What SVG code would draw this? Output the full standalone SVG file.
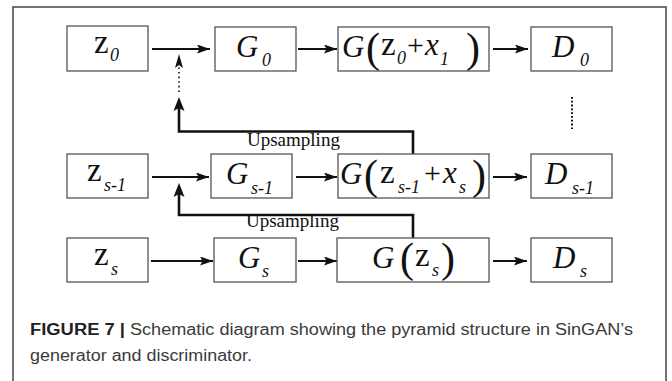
<svg xmlns="http://www.w3.org/2000/svg" width="672" height="381" viewBox="0 0 672 381">
<defs>
<style>
.box{fill:#fff;stroke:#555;stroke-width:1.3}
.m{font-family:"Liberation Serif","DejaVu Serif",serif;font-size:33px;fill:#111}
.pl{font-family:"Liberation Serif","DejaVu Serif",serif;font-size:30px;fill:#111}
.gi{font-family:"Liberation Serif","DejaVu Serif",serif;font-size:31px;font-style:italic;fill:#111}
.sub{font-family:"Liberation Serif","DejaVu Serif",serif;font-size:18px;font-style:italic;fill:#111}
.par{font-family:"Liberation Serif","DejaVu Serif",serif;font-size:42px;fill:#111}
.lbl{font-family:"Liberation Serif","DejaVu Serif",serif;font-size:19px;fill:#111}
.arr{fill:none;stroke:#111;stroke-width:2;marker-end:url(#ah)}
.up{fill:none;stroke:#111;stroke-width:2.6}
.cap{font-family:"Liberation Sans","Arial",sans-serif;font-size:16px;fill:#3a3a3a}
.capb{font-family:"Liberation Sans","Arial",sans-serif;font-size:16px;font-weight:bold;fill:#222}
</style>
<marker id="ah" markerUnits="userSpaceOnUse" markerWidth="14" markerHeight="10" refX="13" refY="4.5" orient="auto">
<path d="M0,0 L13,4.5 L0,9 L2.5,4.5 Z" fill="#111"/>
</marker>
</defs>
<rect width="672" height="381" fill="#fff"/>
<path d="M13,381 V7 H666 V381" fill="none" stroke="#444" stroke-width="1.5"/>

<g id="connectors">
<line class="arr" x1="152" y1="49" x2="210" y2="49"/>
<line class="arr" x1="298" y1="49" x2="337" y2="49"/>
<line class="arr" x1="493" y1="49" x2="528" y2="49"/>
<line class="arr" x1="152" y1="177" x2="209" y2="177"/>
<line class="arr" x1="296" y1="177" x2="337" y2="177"/>
<line class="arr" x1="493" y1="177" x2="527" y2="177"/>
<line class="arr" x1="151" y1="261" x2="213" y2="261"/>
<line class="arr" x1="298" y1="261" x2="337" y2="261"/>
<line class="arr" x1="493" y1="261" x2="527" y2="261"/>
<path class="up" d="M413,154 V131.5 H179 V106"/>
<path d="M173.5,111 L179,97 L184.5,111 L179,108 Z" fill="#111"/>
<line x1="179" y1="92" x2="179" y2="64" stroke="#111" stroke-width="1.6" stroke-dasharray="1.6 3"/>
<path d="M175,68 L179,54 L183,68 L179,65 Z" fill="#111"/>
<path class="up" d="M413,238 V215 H179 V192"/>
<path d="M173.5,197 L179,183 L184.5,197 L179,194 Z" fill="#111"/>
<line x1="572" y1="97" x2="572" y2="129" stroke="#111" stroke-width="2" stroke-dasharray="1.8 2"/>
<text class="lbl" x="247" y="146">Upsampling</text>
<text class="lbl" x="246" y="227">Upsampling</text>
</g>

<g id="z0"><rect class="box" x="67" y="26" width="81" height="45"/><text class="m" x="94" y="53">z</text><text class="sub" x="110" y="61">0</text></g>
<g id="G0"><rect class="box" x="215" y="27" width="81" height="44"/><text class="gi" x="236" y="57">G</text><text class="sub" x="262" y="66">0</text></g>
<g id="Gz0x1"><rect class="box" x="338" y="27" width="151" height="44"/>
<text class="gi" x="342" y="57">G</text><text class="par" x="366" y="62">(</text><text class="m" x="381" y="55">z</text><text class="sub" x="397" y="64">0</text><text class="pl" x="407" y="55">+</text><text class="gi" x="425" y="55">x</text><text class="sub" x="440" y="65">1</text><text class="par" x="466" y="62">)</text></g>
<g id="D0"><rect class="box" x="531" y="27" width="81" height="44"/><text class="gi" x="552" y="57">D</text><text class="sub" x="580" y="66">0</text></g>

<g id="zs1"><rect class="box" x="67" y="154" width="81" height="44"/><text class="m" x="87" y="181">z</text><text class="sub" x="104" y="191">s-1</text></g>
<g id="Gs1"><rect class="box" x="211" y="154" width="81" height="44"/><text class="gi" x="226" y="184">G</text><text class="sub" x="251" y="194">s-1</text></g>
<g id="Gzs1xs"><rect class="box" x="338" y="154" width="151" height="44"/>
<text class="gi" x="340" y="184">G</text><text class="par" x="364" y="189">(</text><text class="m" x="380" y="183">z</text><text class="sub" x="398" y="193">s-1</text><text class="pl" x="424" y="183">+</text><text class="gi" x="443" y="183">x</text><text class="sub" x="459" y="193">s</text><text class="par" x="472" y="189">)</text></g>
<g id="Ds1"><rect class="box" x="531" y="154" width="81" height="44"/><text class="gi" x="545" y="184">D</text><text class="sub" x="572" y="194">s-1</text></g>

<g id="zs"><rect class="box" x="67" y="238" width="81" height="44"/><text class="m" x="94" y="265">z</text><text class="sub" x="111" y="275">s</text></g>
<g id="Gs"><rect class="box" x="214" y="238" width="82" height="44"/><text class="gi" x="238" y="268">G</text><text class="sub" x="262" y="277">s</text></g>
<g id="Gzs"><rect class="box" x="337" y="238" width="152" height="44"/>
<text class="gi" x="372" y="268">G</text><text class="par" x="400" y="272">(</text><text class="m" x="415" y="266">z</text><text class="sub" x="432" y="276">s</text><text class="par" x="441" y="272">)</text></g>
<g id="Ds"><rect class="box" x="531" y="238" width="81" height="44"/><text class="gi" x="553" y="268">D</text><text class="sub" x="580" y="277">s</text></g>

<text class="capb" x="30" y="335" textLength="95" lengthAdjust="spacingAndGlyphs">FIGURE 7 |</text>
<text class="cap" x="130" y="335" textLength="503" lengthAdjust="spacingAndGlyphs">Schematic diagram showing the pyramid structure in SinGAN’s</text>
<text class="cap" x="30" y="361" textLength="222" lengthAdjust="spacingAndGlyphs">generator and discriminator.</text>
</svg>
